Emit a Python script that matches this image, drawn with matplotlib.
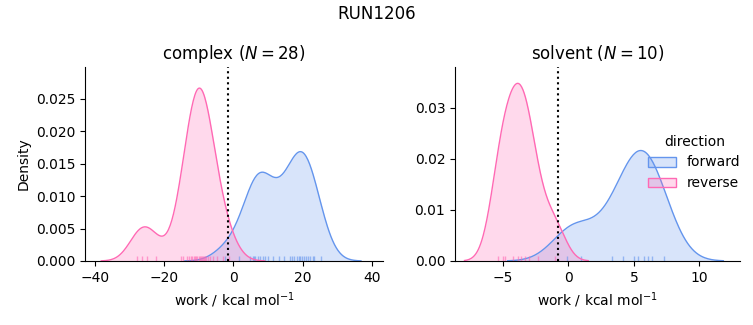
import numpy as np
import matplotlib
matplotlib.use("Agg")
import matplotlib.pyplot as plt
import seaborn as sns
from matplotlib.patches import Patch

# ---- data ----
complex_forward = [-2.5, 1.5, 4.8, 5.6, 6.0, 6.3, 7.0, 7.7, 8.5, 9.0, 9.9, 11.4,
                   13.1, 14.5, 16.2, 17.0, 17.6, 18.3, 18.8, 19.1, 19.8, 20.5, 21.0,
                   21.5, 22.2, 23.0, 23.4, 25.3]
complex_reverse = [-28.0, -26.5, -25.0, -22.5, -15.2, -14.6, -13.5, -12.9, -12.3, -11.9,
                   -11.5, -11.1, -10.8, -10.4, -10.1, -9.8, -9.4, -9.1, -8.8, -8.5,
                   -8.2, -7.9, -7.3, -6.7, -5.8, -4.8, -3.0, -1.2]
solvent_forward = [-0.1, 1.0, 3.3, 4.2, 5.0, 5.3, 5.8, 6.1, 6.4, 7.3]
solvent_reverse = [-5.4, -5.0, -4.8, -4.2, -3.8, -3.6, -3.3, -3.0, -2.3, -1.0]
complex_estimate = -1.45
solvent_estimate = -0.78
phases = ["complex", "solvent"]
directions = ["forward", "reverse"]
colors = {"forward": "#6495ED", "reverse": "#FF69B4"}

data = {
    "complex": {"forward": complex_forward, "reverse": complex_reverse},
    "solvent": {"forward": solvent_forward, "reverse": solvent_reverse},
}
estimates = {"complex": complex_estimate, "solvent": solvent_estimate}
n_total = sum(len(v) for p in data.values() for v in p.values())


def kde(values, gridsize=200, cut=3):
    x = np.asarray(values, float)
    n = len(x)
    bw = x.std(ddof=1) * n ** (-1 / 5)
    grid = np.linspace(x.min() - cut * bw, x.max() + cut * bw, gridsize)
    dens = np.exp(-0.5 * ((grid[:, None] - x[None, :]) / bw) ** 2).sum(axis=1)
    dens /= n * bw * np.sqrt(2 * np.pi)
    return grid, dens * n / n_total


fig = plt.figure(figsize=(7.53, 3.25), dpi=100)
axes = [fig.add_axes([0.1129, 0.197, 0.3957, 0.597]),
        fig.add_axes([0.6043, 0.197, 0.3785, 0.597])]
xlims = {"complex": (-42.9, 43.2), "solvent": (-8.64, 13.1)}
ylims = {"complex": (0, 0.0299), "solvent": (0, 0.038)}

for ax, phase in zip(axes, phases):
    for d in directions:
        vals = data[phase][d]
        g, y = kde(vals)
        ax.fill_between(g, 0, y, color=colors[d], alpha=0.25, lw=0)
        ax.plot(g, y, color=colors[d], lw=1)
        sns.rugplot(x=vals, ax=ax, color=colors[d], height=0.025, lw=1, alpha=0.6)
    ax.axvline(estimates[phase], color="black", ls=":", lw=1.5)
    n = len(data[phase]["forward"])
    ax.set_title(f"{phase} ($N={n}$)", fontsize=12)
    ax.set_xlabel("work / kcal mol$^{-1}$")
    ax.set_xlim(*xlims[phase])
    ax.set_ylim(*ylims[phase])
    ax.spines["top"].set_visible(False)
    ax.spines["right"].set_visible(False)

axes[0].set_ylabel("Density")
axes[0].set_xticks([-40, -20, 0, 20, 40])
axes[1].set_xticks([-5, 0, 5, 10])
axes[1].set_yticks([0, 0.01, 0.02, 0.03])

fig.suptitle("RUN1206", fontsize=12, y=0.985)

handles = [Patch(facecolor=matplotlib.colors.to_rgba(colors[d], 0.25),
                 edgecolor=colors[d], label=d) for d in directions]
fig.legend(handles=handles, title="direction", loc="center left",
           bbox_to_anchor=(0.844, 0.5), frameon=False, fontsize=10, title_fontsize=10)

fig.savefig("out.png", dpi=100)
